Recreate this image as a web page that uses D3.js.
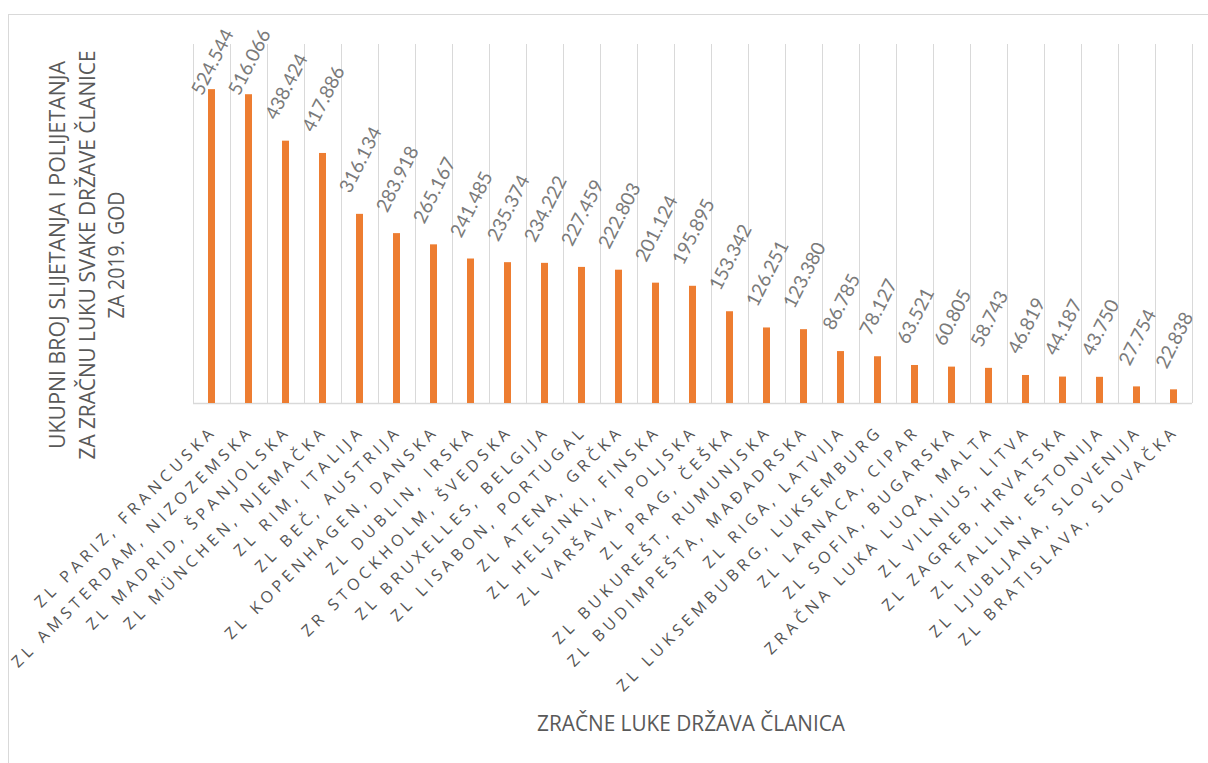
<!DOCTYPE html>
<html>
<head>
<meta charset="utf-8">
<script src="https://cdn.jsdelivr.net/npm/d3@7"></script>
<style>
  body { margin: 0; background: #fff; }
  svg { display: block; }
</style>
</head>
<body>
<script>
// aerodromi i broj slijetanja/polijetanja 2019.
var airports = [
  "ZL PARIZ, FRANCUSKA", "ZL AMSTERDAM, NIZOZEMSKA", "ZL MADRID, ŠPANJOLSKA",
  "ZL MÜNCHEN, NJEMAČKA", "ZL RIM, ITALIJA", "ZL BEČ, AUSTRIJA",
  "ZL KOPENHAGEN, DANSKA", "ZL DUBLIN, IRSKA", "ZR STOCKHOLM, ŠVEDSKA",
  "ZL BRUXELLES, BELGIJA", "ZL LISABON, PORTUGAL", "ZL ATENA, GRČKA",
  "ZL HELSINKI, FINSKA", "ZL VARŠAVA, POLJSKA", "ZL PRAG, ČEŠKA",
  "ZL BUKUREŠT, RUMUNJSKA", "ZL BUDIMPEŠTA, MAĐADRSKA", "ZL RIGA, LATVIJA",
  "ZL LUKSEMBUBRG, LUKSEMBURG", "ZL LARNACA, CIPAR", "ZL SOFIA, BUGARSKA",
  "ZRAČNA LUKA LUQA, MALTA", "ZL VILNIUS, LITVA", "ZL ZAGREB, HRVATSKA",
  "ZL TALLIN, ESTONIJA", "ZL LJUBLJANA, SLOVENIJA", "ZL BRATISLAVA, SLOVAČKA"
];
var movements = [
  524.544, 516.066, 438.424, 417.886, 316.134, 283.918, 265.167, 241.485,
  235.374, 234.222, 227.459, 222.803, 201.124, 195.895, 153.342, 126.251,
  123.380, 86.785, 78.127, 63.521, 60.805, 58.743, 46.819, 44.187, 43.750,
  27.754, 22.838
];
var labels = [
  "524.544", "516.066", "438.424", "417.886", "316.134", "283.918", "265.167",
  "241.485", "235.374", "234.222", "227.459", "222.803", "201.124", "195.895",
  "153.342", "126.251", "123.380", "86.785", "78.127", "63.521", "60.805",
  "58.743", "46.819", "44.187", "43.750", "27.754", "22.838"
];
var yTitle = ["UKUPNI BROJ SLIJETANJA I POLIJETANJA", "ZA ZRAČNU LUKU SVAKE DRŽAVE ČLANICE", "ZA 2019. GOD"];
var xTitle = "ZRAČNE LUKE DRŽAVA ČLANICA";

var data = airports.map(function (a, i) {
  return { name: a, value: movements[i], label: labels[i] };
});

var svg = d3.select("body").append("svg")
  .attr("width", 1208)
  .attr("height", 763);

svg.append("rect").attr("width", 1208).attr("height", 763).attr("fill", "#fff");

// okvir grafikona
svg.append("rect")
  .attr("x", 8.5).attr("y", 14.5)
  .attr("width", 1400).attr("height", 900)
  .attr("fill", "none")
  .attr("stroke", "#d9d9d9");

var x = d3.scaleBand()
  .domain(airports)
  .range([193, 1192])
  .padding(0);

var y = d3.scaleLinear()
  .domain([0, 600])
  .range([403, 44]);

// vertikalne linije mreže
var gridX = airports.map(function (a) { return x(a); }).concat([x.range()[1]]);
svg.append("g").selectAll("line")
  .data(gridX)
  .enter()
  .append("line")
  .attr("x1", function (d) { return Math.round(d) + 0.5; })
  .attr("x2", function (d) { return Math.round(d) + 0.5; })
  .attr("y1", y(600))
  .attr("y2", y(0))
  .attr("stroke", "#d9d9d9")
  .attr("stroke-width", 1);

svg.append("line")
  .attr("x1", x.range()[0]).attr("x2", x.range()[1])
  .attr("y1", y(0) + 0.5).attr("y2", y(0) + 0.5)
  .attr("stroke", "#d9d9d9")
  .attr("stroke-width", 1.5);

var barW = 7;
svg.append("g").selectAll("rect")
  .data(data)
  .enter()
  .append("rect")
  .attr("x", function (d) { return x(d.name) + x.bandwidth() / 2 - barW / 2; })
  .attr("y", function (d) { return y(d.value); })
  .attr("width", barW)
  .attr("height", function (d) { return y(0) - y(d.value); })
  .attr("fill", "#ed7d31");

// oznake vrijednosti
var ang = 63;
var rad = ang * Math.PI / 180;
var fs = 19;
var vals = svg.append("g").selectAll("text")
  .data(data)
  .enter()
  .append("text")
  .attr("text-anchor", "middle")
  .attr("dominant-baseline", "central")
  .attr("font-family", "Lato, 'Open Sans', sans-serif")
  .attr("font-size", fs)
  .attr("fill", "#7a7a7a")
  .text(function (d) { return d.label; });

vals.attr("transform", function (d) {
  var L = this.getComputedTextLength();
  var H = L * Math.sin(rad) + 0.72 * fs * Math.cos(rad);
  var cy = Math.max(y(d.value) - 20 - H / 2, 27 + H / 2);
  var cx = x(d.name) + x.bandwidth() / 2;
  return "translate(" + cx + "," + cy + ") rotate(" + (-ang) + ")";
});

// oznake kategorija
svg.append("g").selectAll("text")
  .data(data)
  .enter()
  .append("text")
  .attr("transform", function (d) {
    return "translate(" + (x(d.name) + x.bandwidth() / 2 - 2) + "," + 424 + ") rotate(-45)";
  })
  .attr("text-anchor", "end")
  .attr("dy", "0.72em")
  .attr("font-family", "'Open Sans', sans-serif")
  .attr("font-size", 16)
  .attr("letter-spacing", 4.5)
  .attr("fill", "#555")
  .text(function (d) { return d.name; });

// naslovi osi
var yLens = [388, 409, 127];
svg.append("g").selectAll("text")
  .data(yTitle)
  .enter()
  .append("text")
  .attr("transform", function (d, i) {
    return "translate(" + (65 + i * 29.5) + ",255) rotate(-90)";
  })
  .attr("text-anchor", "middle")
  .attr("font-family", "'Open Sans', sans-serif")
  .attr("font-size", 21)
  .attr("fill", "#595959")
  .attr("textLength", function (d, i) { return yLens[i]; })
  .attr("lengthAdjust", "spacingAndGlyphs")
  .text(function (d) { return d; });

svg.append("text")
  .attr("x", 691)
  .attr("y", 731)
  .attr("text-anchor", "middle")
  .attr("font-family", "'Open Sans', sans-serif")
  .attr("font-size", 21)
  .attr("fill", "#595959")
  .attr("textLength", 308)
  .attr("lengthAdjust", "spacingAndGlyphs")
  .text(xTitle);
</script>
</body>
</html>
